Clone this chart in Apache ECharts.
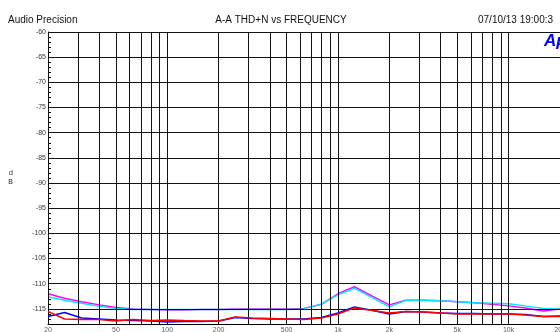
<!DOCTYPE html>
<html><head><meta charset="utf-8">
<script src="https://cdn.jsdelivr.net/npm/echarts@6/dist/echarts.min.js"></script>
<style>html,body{margin:0;padding:0;background:#fff}#chart{width:560px;height:332px}</style>
</head><body><div id="chart"></div>
<script>
// Sweep frequencies (Hz), 1/3-octave steps
const freqs = [20,25,31.5,40,50,63,80,100,125,160,200,250,315,400,500,630,800,1000,1250,1600,2000,2500,3150,4000,5000,6300,8000,10000,12500,16000,20000];
// THD+N readings (dB) per trace
const magentaTrace = [-112.0,-112.9,-113.6,-114.2,-114.7,-115.0,-115.1,-115.2,-115.2,-115.1,-115.1,-115.0,-115.0,-115.0,-115.0,-114.9,-114.1,-112.0,-110.6,-112.5,-114.2,-113.3,-113.3,-113.4,-113.6,-113.8,-114.1,-114.4,-114.8,-115.4,-115.0];
const cyanTrace    = [-112.6,-113.3,-113.9,-114.5,-114.9,-115.1,-115.1,-115.1,-115.1,-115.1,-115.1,-115.1,-115.1,-115.1,-115.1,-115.0,-114.0,-112.2,-110.9,-112.8,-114.6,-113.3,-113.3,-113.4,-113.6,-113.8,-113.9,-114.0,-114.4,-114.9,-115.0];
const blueTrace    = [-116.5,-115.7,-116.8,-117.0,-117.2,-117.3,-117.4,-117.6,-117.5,-117.5,-117.4,-116.7,-116.9,-117.0,-117.0,-117.0,-116.7,-115.8,-114.6,-115.3,-116.0,-115.5,-115.6,-115.8,-115.9,-115.9,-116.0,-116.0,-116.1,-116.5,-116.4];
const redTrace     = [-115.5,-117.0,-117.1,-117.1,-117.4,-117.1,-117.3,-117.2,-117.3,-117.4,-117.4,-116.6,-116.8,-116.9,-117.0,-117.1,-116.8,-116.0,-114.8,-115.3,-115.8,-115.5,-115.6,-115.8,-116.0,-116.0,-116.0,-116.0,-116.2,-116.5,-116.5];

// Axis decorations
const gridFreqs = [20,30,40,50,60,70,80,90,100,200,300,400,500,600,700,800,900,1000,2000,3000,4000,5000,6000,7000,8000,9000,10000,20000];
const tickFreqs = [20,50,100,200,500,1000,2000,5000,10000,20000];
const tickLabels = ['20','50','100','200','500','1k','2k','5k','10k','20k'];
const dbLines = [-60,-65,-70,-75,-80,-85,-90,-95,-100,-105,-110,-115];
const yMin = -118, yMax = -60;

const pair = arr => freqs.map((f, i) => [f, arr[i]]);
const font = 'Arial, "Liberation Sans", sans-serif';

const gridLineStyle = { color: '#111', width: 1, type: 'solid' };

const chart = echarts.init(document.getElementById('chart'), null, { renderer: 'canvas' });
chart.setOption({
  animation: false,
  backgroundColor: '#fff',
  grid: { left: 48, top: 32, width: 520, height: 292, containLabel: false },
  xAxis: {
    type: 'log', logBase: 10, min: 20, max: 20000,
    axisLine: { show: true, lineStyle: { color: '#000', width: 1 } },
    axisTick: { show: false }, axisLabel: { show: false }, splitLine: { show: false }
  },
  yAxis: {
    type: 'value', min: yMin, max: yMax, interval: 1,
    name: 'd\nB', nameLocation: 'middle', nameRotate: 0, nameGap: 35,
    nameTextStyle: { fontSize: 7, lineHeight: 9, color: '#222', fontFamily: font },
    axisLine: { show: true, lineStyle: { color: '#000', width: 1 } },
    axisTick: { show: true, inside: true, length: 3, lineStyle: { color: '#000', width: 1 } },
    axisLabel: {
      margin: 2, fontSize: 7, color: '#333', fontFamily: font,
      formatter: v => (v % 5 === 0 ? String(v) : '')
    },
    splitLine: { show: false }
  },
  graphic: [
    { type: 'text', left: 8, top: 15, style: { text: 'Audio Precision', font: '10px ' + font, fill: '#111' } },
    { type: 'text', x: 281, y: 15, style: { text: 'A-A THD+N vs FREQUENCY', font: '10px ' + font, fill: '#111', textAlign: 'center' } },
    { type: 'text', x: 478, y: 15, style: { text: '07/10/13 19:00:3', font: '10px ' + font, fill: '#111' } },
    { type: 'text', x: 544, y: 33, style: { text: 'Ap', font: 'italic bold 17px ' + font, fill: '#0000ff' } }
  ],
  series: [
    {
      name: 'axis-marks', type: 'scatter', symbolSize: 0, silent: true, clip: false, z: 1,
      data: tickFreqs.map(f => [f, yMin]),
      label: {
        show: true, position: 'bottom', distance: 3, fontSize: 7, color: '#333', fontFamily: font,
        formatter: p => tickLabels[p.dataIndex]
      },
      markLine: {
        silent: true, symbol: 'none', animation: false,
        label: { show: false },
        lineStyle: gridLineStyle,
        emphasis: { disabled: true },
        data: gridFreqs.map(f => ({ xAxis: f })).concat(dbLines.map(v => ({ yAxis: v })))
      }
    },
    { name: 'magenta', type: 'line', data: pair(magentaTrace), symbol: 'none', lineStyle: { color: '#ff00ff', width: 1.5 }, z: 3 },
    { name: 'cyan', type: 'line', data: pair(cyanTrace), symbol: 'none', lineStyle: { color: '#00e8ff', width: 1.5 }, z: 4 },
    { name: 'blue', type: 'line', data: pair(blueTrace), symbol: 'none', lineStyle: { color: '#0000ff', width: 1.5 }, z: 5 },
    { name: 'red', type: 'line', data: pair(redTrace), symbol: 'none', lineStyle: { color: '#ff0000', width: 1.5 }, z: 6 }
  ]
});
</script>
</body></html>
